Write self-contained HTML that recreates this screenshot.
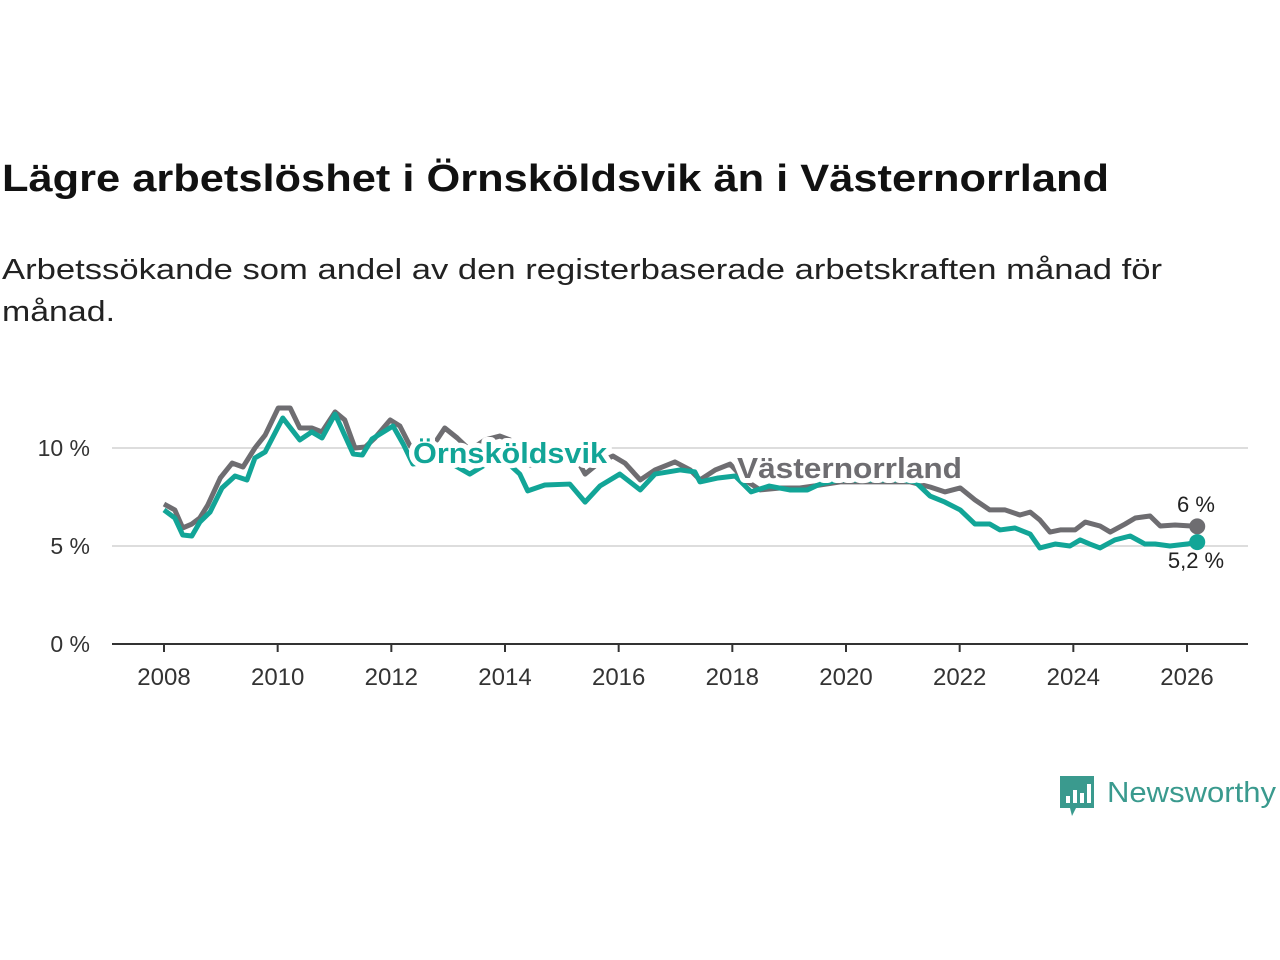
<!DOCTYPE html>
<html><head><meta charset="utf-8"><style>
html,body{margin:0;padding:0;background:#fff;width:1280px;height:960px;overflow:hidden}
svg{font-family:"Liberation Sans","DejaVu Sans",sans-serif}
</style></head><body>
<svg id="chart" width="1280" height="960" viewBox="0 0 1280 960">
<text x="2" y="191" font-size="38" font-weight="bold" fill="#111" textLength="1107" lengthAdjust="spacingAndGlyphs">Lägre arbetslöshet i Örnsköldsvik än i Västernorrland</text>
<text x="2" y="279" font-size="29" fill="#222" textLength="1160" lengthAdjust="spacingAndGlyphs">Arbetssökande som andel av den registerbaserade arbetskraften månad för</text>
<text x="2" y="321" font-size="29" fill="#222" textLength="113" lengthAdjust="spacingAndGlyphs">månad.</text>
<g id="grid"></g><g id="axes"></g><g id="lines"></g><g id="labels"></g>
<g>
<path d="M1060 776 h34 v32 h-18 l-4 8 l-2 -8 h-10 z" fill="#3a9a8e"/>
<rect x="1066" y="796" width="4" height="7" fill="#fff"/><rect x="1073" y="790" width="4" height="13" fill="#fff"/><rect x="1080" y="793" width="4" height="10" fill="#fff"/><rect x="1087" y="784" width="4" height="19" fill="#fff"/>
<text x="1107" y="802" font-size="29" fill="#3a9a8e" textLength="169" lengthAdjust="spacingAndGlyphs">Newsworthy</text>
</g>
</svg>
<script>
const yTicks=[0,5,10];
const xTicks=[2008,2010,2012,2014,2016,2018,2020,2022,2024,2026];
const vnYears=[2008.00,2008.19,2008.33,2008.49,2008.63,2008.77,2008.99,2009.20,2009.39,2009.60,2009.78,2010.01,2010.22,2010.39,2010.60,2010.78,2011.01,2011.18,2011.36,2011.54,2011.71,2011.98,2012.15,2012.33,2012.59,2012.80,2012.94,2013.16,2013.38,2013.65,2013.91,2014.09,2014.44,2014.70,2014.97,2015.23,2015.41,2015.67,2015.90,2016.11,2016.38,2016.64,2016.99,2017.26,2017.43,2017.70,2017.96,2018.22,2018.49,2018.84,2019.19,2019.54,2019.90,2020.60,2021.13,2021.48,2021.74,2022.01,2022.27,2022.53,2022.80,2023.06,2023.24,2023.41,2023.59,2023.77,2024.03,2024.21,2024.47,2024.65,2024.91,2025.09,2025.35,2025.53,2025.79,2026.18];
const vnValues=[7.14,6.84,5.92,6.12,6.43,7.09,8.47,9.23,9.03,10.0,10.66,12.04,12.04,11.02,11.02,10.82,11.84,11.43,10.0,10.05,10.51,11.43,11.12,10.10,10.10,10.41,11.02,10.51,9.90,10.41,10.61,10.41,9.13,9.13,9.64,9.59,8.67,9.29,9.59,9.23,8.37,8.88,9.29,8.88,8.37,8.88,9.18,8.37,7.86,7.96,7.96,8.11,8.27,8.27,8.27,8.01,7.76,7.96,7.35,6.84,6.84,6.58,6.73,6.33,5.71,5.82,5.82,6.22,6.02,5.71,6.12,6.43,6.53,6.02,6.07,6.0];
const ovYears=[2008.00,2008.19,2008.33,2008.49,2008.63,2008.81,2009.02,2009.25,2009.46,2009.60,2009.78,2010.09,2010.39,2010.60,2010.78,2011.01,2011.33,2011.49,2011.66,2012.03,2012.21,2012.38,2012.94,2013.38,2013.91,2014.26,2014.40,2014.70,2015.14,2015.41,2015.67,2016.02,2016.38,2016.64,2017.08,2017.34,2017.43,2017.75,2018.05,2018.33,2018.65,2019.01,2019.32,2019.54,2019.90,2020.95,2021.22,2021.48,2021.74,2022.01,2022.27,2022.53,2022.71,2022.97,2023.24,2023.41,2023.68,2023.94,2024.12,2024.29,2024.47,2024.73,2025.00,2025.26,2025.44,2025.70,2026.00,2026.18];
const ovValues=[6.84,6.43,5.56,5.51,6.22,6.73,7.96,8.57,8.37,9.49,9.80,11.53,10.41,10.82,10.51,11.73,9.69,9.64,10.46,11.12,10.20,9.18,9.4,8.67,9.6,8.67,7.81,8.11,8.16,7.24,8.06,8.67,7.86,8.67,8.88,8.78,8.27,8.47,8.57,7.76,8.06,7.86,7.86,8.16,8.37,8.37,8.27,7.55,7.24,6.84,6.12,6.12,5.82,5.92,5.61,4.90,5.10,5.0,5.31,5.10,4.90,5.31,5.51,5.10,5.10,5.0,5.10,5.2];
const NS='http://www.w3.org/2000/svg';
const xS=y=>164+(y-2008)*(1187-164)/18;
const yS=v=>644-v*19.6;
function mk(tag,attrs,parent){const e=document.createElementNS(NS,tag);for(const k in attrs)e.setAttribute(k,attrs[k]);document.getElementById(parent).appendChild(e);return e;}
yTicks.forEach(t=>{
 if(t>0){const g=mk('line',{x1:112,x2:1248,y1:yS(t),y2:yS(t),stroke:'#ddd','stroke-width':2},'grid');
 
 }
 const l=mk('text',{x:90,y:yS(t)+8,'text-anchor':'end','font-size':23,fill:'#333'},'axes');l.textContent=t+' %';
 
 
});
const ax=mk('line',{x1:112,x2:1248,y1:644,y2:644,stroke:'#333','stroke-width':2},'axes');


xTicks.forEach(t=>{
 const tk=mk('line',{x1:xS(t),x2:xS(t),y1:644,y2:652,stroke:'#333','stroke-width':2},'axes');
 
 
 const l=mk('text',{x:xS(t),y:685,'text-anchor':'middle','font-size':24,fill:'#333'},'axes');l.textContent=t;
 
 
});
function line(xs,vs,color,name){
 const p=mk('polyline',{points:xs.map((x,i)=>xS(x)+','+yS(vs[i])).join(' '),fill:'none',stroke:color,'stroke-width':5,'stroke-linejoin':'round'},'lines');
 
 
 const n=xs.length-1;
 const c=mk('circle',{cx:xS(xs[n]),cy:yS(vs[n]),r:8,fill:color},'lines');
 
 
}
line(vnYears,vnValues,'#6e6d71','vasternorrland-line');
line(ovYears,ovValues,'#12a597','ornskoldsvik-line');
function lab(x,y,txt,color,size,weight,name,anchor,len){
 const a={x:x,y:y,'font-size':size,'font-weight':weight,fill:color,stroke:'#fff','stroke-width':weight==='bold'?10:5,'paint-order':'stroke','stroke-linejoin':'round','text-anchor':anchor||'start'};
 if(len){a.textLength=len;a.lengthAdjust='spacingAndGlyphs';}
 const t=mk('text',a,'labels');
 t.textContent=txt;
 
 
 return t;
}
lab(413,463,'Örnsköldsvik','#12a597',29,'bold','ornskoldsvik-label','start',194);
lab(737,478,'Västernorrland','#6e6d71',29,'bold','vasternorrland-label','start',225);
lab(1196,512,vnValues[vnValues.length-1].toString().replace('.',',')+' %','#222',22,'normal','vasternorrland-end-value','middle');
lab(1196,568,ovValues[ovValues.length-1].toString().replace('.',',')+' %','#222',22,'normal','ornskoldsvik-end-value','middle');
</script>
</body></html>
